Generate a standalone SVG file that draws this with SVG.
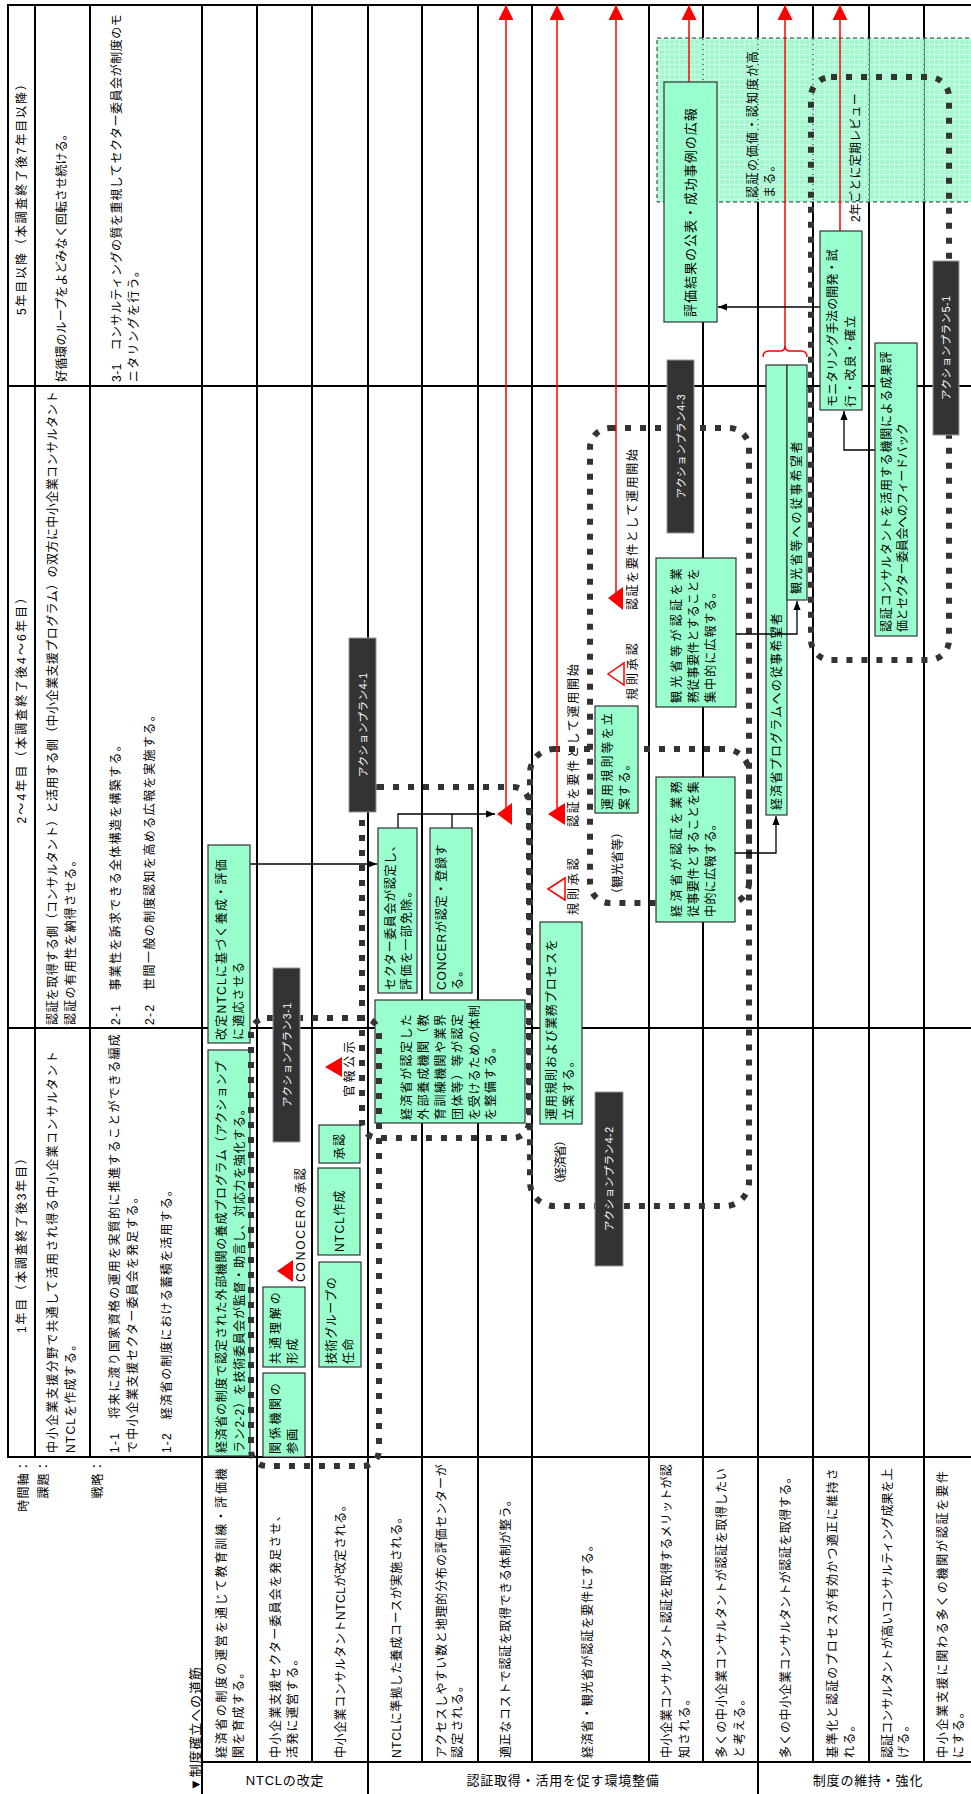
<svg xmlns="http://www.w3.org/2000/svg" width="971" height="1794" viewBox="0 0 971 1794">
<defs>
<style>
.t{font-family:"Liberation Sans","Noto Sans CJK JP",sans-serif;font-size:12px;fill:#000;dominant-baseline:central;letter-spacing:1.2px}
.w{font-family:"Liberation Sans","Noto Sans CJK JP",sans-serif;font-size:10.5px;fill:#fff;dominant-baseline:central;text-anchor:middle}
.h{font-family:"Liberation Sans","Noto Sans CJK JP",sans-serif;font-size:13px;fill:#000;dominant-baseline:central;text-anchor:middle;letter-spacing:0.8px}
.m{text-anchor:middle}
.e{text-anchor:end}
.g{fill:#99ffcc;stroke:#333;stroke-width:1.2}
.d{fill:#333;stroke:#999;stroke-width:1}
.grid line{stroke:#000;stroke-width:2}
.dot{fill:none;stroke:#333;stroke-width:6;stroke-dasharray:6 9}
.red{stroke:#f00;stroke-width:1.5;fill:none}
.con{stroke:#000;stroke-width:1.3;fill:none}
.rt{fill:#f00}
.ht{fill:#fff;stroke:#f00;stroke-width:1.5}
</style>
<marker id="ba" viewBox="0 0 10 8" refX="10" refY="4" markerWidth="9" markerHeight="7.2" markerUnits="userSpaceOnUse" orient="auto"><path d="M0,0 L10,4 L0,8 z" fill="#000"/></marker>
<marker id="rh" viewBox="0 0 10 10" refX="10" refY="5" markerWidth="15" markerHeight="15" markerUnits="userSpaceOnUse" orient="auto"><path d="M0,0 L10,5 L0,10 z" fill="#f00"/></marker>
<pattern id="gp" width="5" height="5" patternUnits="userSpaceOnUse"><rect width="5" height="5" fill="#99ffcc" fill-opacity="0.55"/><rect width="4" height="4" fill="#a3f8cf"/></pattern>
</defs>
<rect width="971" height="1794" fill="#fff"/>

<g id="table" class="grid">
<line x1="7" y1="5" x2="971" y2="5"/>
<line x1="7" y1="386" x2="971" y2="386"/>
<line x1="7" y1="1028" x2="971" y2="1028"/>
<line x1="7" y1="1457" x2="971" y2="1457"/>
<line x1="202" y1="1762" x2="971" y2="1762"/>
<line x1="8" y1="4" x2="8" y2="1458"/>
<line x1="35" y1="4" x2="35" y2="1458"/>
<line x1="90" y1="4" x2="90" y2="1458"/>
<line x1="202" y1="4" x2="202" y2="1794"/>
<line x1="257" y1="4" x2="257" y2="1762"/>
<line x1="312" y1="4" x2="312" y2="1762"/>
<line x1="368" y1="4" x2="368" y2="1794"/>
<line x1="422" y1="4" x2="422" y2="1762"/>
<line x1="478" y1="4" x2="478" y2="1762"/>
<line x1="532" y1="4" x2="532" y2="1762"/>
<line x1="649" y1="4" x2="649" y2="1762"/>
<line x1="703" y1="4" x2="703" y2="1762"/>
<line x1="758" y1="4" x2="758" y2="1794"/>
<line x1="813" y1="4" x2="813" y2="1762"/>
<line x1="869" y1="4" x2="869" y2="1762"/>
<line x1="924" y1="4" x2="924" y2="1762"/>
</g>

<g id="headers">
<text class="t m" transform="translate(22,1242) rotate(-90)" textLength="182">1年目（本調査終了後3年目）</text>
<text class="t m" transform="translate(22,707) rotate(-90)" textLength="233">2～4年目（本調査終了後4～6年目）</text>
<text class="t m" transform="translate(22,196) rotate(-90)" textLength="238">5年目以降（本調査終了後7年目以降）</text>
<text class="t e" transform="translate(24,1459) rotate(-90)">時間軸：</text>
<text class="t e" transform="translate(44,1459) rotate(-90)">課題：</text>
<text class="t e" transform="translate(98,1459) rotate(-90)">戦略：</text>
<text class="t" transform="translate(53,1453) rotate(-90)" textLength="403">中小企業支援分野で共通して活用され得る中小企業コンサルタント</text>
<text class="t" transform="translate(71,1453) rotate(-90)">NTCLを作成する。</text>
<text class="t" transform="translate(53,1025) rotate(-90)" textLength="635">認証を取得する側（コンサルタント）と活用する側（中小企業支援プログラム）の双方に中小企業コンサルタント</text>
<text class="t" transform="translate(71,1025) rotate(-90)">認証の有用性を納得させる。</text>
<text class="t" transform="translate(62,382) rotate(-90)" textLength="255">好循環のループをよどみなく回転させ続ける。</text>
<text class="t" transform="translate(115,1453) rotate(-90)" textLength="420">1-1　将来に渡り国家資格の運用を実質的に推進することができる編成</text>
<text class="t" transform="translate(133,1453) rotate(-90)" textLength="263">で中小企業支援セクター委員会を発足する。</text>
<text class="t" transform="translate(167,1453) rotate(-90)" textLength="270">1-2　経済省の制度における蓄積を活用する。</text>
<text class="t" transform="translate(116,1025) rotate(-90)" textLength="287">2-1　事業性を訴求できる全体構造を構築する。</text>
<text class="t" transform="translate(150,1025) rotate(-90)" textLength="317">2-2　世間一般の制度認知を高める広報を実施する。</text>
<text class="t" transform="translate(117,382) rotate(-90)" textLength="369">3-1　コンサルティングの質を重視してセクター委員会が制度のモ</text>
<text class="t" transform="translate(134,382) rotate(-90)">ニタリングを行う。</text>
</g>

<g id="row-labels">
<text class="t" style="font-size:13px" transform="translate(195,1791) rotate(-90)" textLength="125">▼制度確立への道筋</text>
<text class="t" transform="translate(222,1758) rotate(-90)" textLength="291">経済省の制度の運営を通じて教育訓練・評価機</text>
<text class="t" transform="translate(239,1758) rotate(-90)">関を育成する。</text>
<text class="t" transform="translate(276,1758) rotate(-90)" textLength="250">中小企業支援セクター委員会を発足させ、</text>
<text class="t" transform="translate(293,1758) rotate(-90)">活発に運営する。</text>
<text class="t" transform="translate(341,1758) rotate(-90)" textLength="260">中小企業コンサルタントNTCLが改定される。</text>
<text class="t" transform="translate(397,1758) rotate(-90)" textLength="248">NTCLに準拠した養成コースが実施される。</text>
<text class="t" transform="translate(442,1758) rotate(-90)" textLength="295">アクセスしやすい数と地理的分布の評価センターが</text>
<text class="t" transform="translate(458,1758) rotate(-90)">認定される。</text>
<text class="t" transform="translate(506,1758) rotate(-90)" textLength="265">適正なコストで認証を取得できる体制が整う。</text>
<text class="t" transform="translate(588,1758) rotate(-90)" textLength="220">経済省・観光省が認証を要件にする。</text>
<text class="t" transform="translate(667,1758) rotate(-90)" textLength="295">中小企業コンサルタント認証を取得するメリットが認</text>
<text class="t" transform="translate(685,1758) rotate(-90)">知される。</text>
<text class="t" transform="translate(722,1758) rotate(-90)" textLength="291">多くの中小企業コンサルタントが認証を取得したい</text>
<text class="t" transform="translate(740,1758) rotate(-90)">と考える。</text>
<text class="t" transform="translate(786,1758) rotate(-90)" textLength="288">多くの中小企業コンサルタントが認証を取得する。</text>
<text class="t" transform="translate(833,1758) rotate(-90)" textLength="291">基準化と認証のプロセスが有効かつ適正に維持さ</text>
<text class="t" transform="translate(850,1758) rotate(-90)">れる。</text>
<text class="t" transform="translate(888,1758) rotate(-90)" textLength="291">認証コンサルタントが高いコンサルティング成果を上</text>
<text class="t" transform="translate(904,1758) rotate(-90)">げる。</text>
<text class="t" transform="translate(943,1758) rotate(-90)" textLength="288">中小企業支援に関わる多くの機関が認証を要件</text>
<text class="t" transform="translate(959,1758) rotate(-90)">にする。</text>
<text class="h" x="285" y="1780">NTCLの改定</text>
<text class="h" x="563" y="1780">認証取得・活用を促す環境整備</text>
<text class="h" x="868" y="1780">制度の維持・強化</text>
</g>

<g id="goal-area">
<rect x="657" y="38" width="315" height="164" fill="url(#gp)" stroke="#333" stroke-width="1" stroke-dasharray="4 3"/>
<text class="t" transform="translate(753,198) rotate(-90)" textLength="148">認証の価値・認知度が高</text>
<text class="t" transform="translate(770,198) rotate(-90)">まる。</text>
</g>

<g id="plan-outlines-back">
<rect class="dot" x="530" y="749" width="219" height="457" rx="24"/>
<rect class="dot" x="590" y="428" width="159" height="475" rx="20"/>
<rect class="dot" x="811" y="77" width="138" height="583" rx="20"/>
</g>

<g id="connectors">
<g class="red" marker-end="url(#rh)">
<line x1="506" y1="812" x2="506" y2="5"/>
<line x1="557" y1="812" x2="557" y2="5"/>
<line x1="616" y1="598" x2="616" y2="5"/>
<line x1="689" y1="82" x2="689" y2="5"/>
<line x1="785" y1="347" x2="785" y2="5"/>
<line x1="840" y1="231" x2="840" y2="5"/>
</g>
<path class="red" d="M763,357 Q763,351 769,351 L780,351 Q785,351 785,346 Q785,351 790,351 L801,351 Q807,351 807,357"/>
<g class="con">
<line x1="250" y1="864" x2="377" y2="864" marker-end="url(#ba)"/>
<polyline points="398,828 398,814 495,814" marker-end="url(#ba)"/>
<line x1="452" y1="828" x2="452" y2="814"/>
<line x1="820" y1="307" x2="718" y2="307" marker-end="url(#ba)"/>
<polyline points="875,450 844,450 844,411" marker-end="url(#ba)"/>
</g>
</g>

<g id="n-b1"><rect class="g" x="208" y="1050" width="42" height="406"/>
<text class="t" transform="translate(222,1453) rotate(-90)" textLength="393">経済省の制度で認定された外部機関の養成プログラム（アクションプ</text>
<text class="t" transform="translate(240,1453) rotate(-90)" textLength="351">ラン2-2）を技術委員会が監督・助言し、対応力を強化する。</text></g>
<g id="n-b2"><rect class="g" x="208" y="845" width="42" height="198"/>
<text class="t" transform="translate(222,1040) rotate(-90)" textLength="182">改定NTCLに基づく養成・評価</text>
<text class="t" transform="translate(239,1040) rotate(-90)">に適応させる</text></g>
<g id="n-b3"><rect class="g" x="263" y="1373" width="42" height="84"/>
<text class="t" transform="translate(276,1454) rotate(-90)" textLength="72">関係機関の</text>
<text class="t" transform="translate(293,1454) rotate(-90)">参画</text></g>
<g id="n-b4"><rect class="g" x="263" y="1287" width="42" height="80"/>
<text class="t" transform="translate(276,1364) rotate(-90)" textLength="73">共通理解の</text>
<text class="t" transform="translate(293,1364) rotate(-90)">形成</text></g>
<g id="n-b5"><rect class="g" x="319" y="1262" width="42" height="105"/>
<text class="t" transform="translate(332,1364) rotate(-90)" textLength="88">技術グループの</text>
<text class="t" transform="translate(349,1364) rotate(-90)">任命</text></g>
<g id="n-b6"><rect class="g" x="318" y="1168" width="42" height="87"/>
<text class="t" transform="translate(340,1252) rotate(-90)">NTCL作成</text></g>
<g id="n-b7"><rect class="g" x="319" y="1125" width="41" height="38"/>
<text class="t m" transform="translate(340,1146) rotate(-90)">承認</text></g>
<g id="n-b13"><rect class="g" x="375" y="1000" width="150" height="123"/>
<text class="t" style="letter-spacing:1.4px" transform="translate(407,1120) rotate(-90)">経済省が認定した</text>
<text class="t" style="letter-spacing:1.4px" transform="translate(424,1120) rotate(-90)">外部養成機関（教</text>
<text class="t" style="letter-spacing:1.4px" transform="translate(441,1120) rotate(-90)">育訓練機関や業界</text>
<text class="t" style="letter-spacing:1.4px" transform="translate(458,1120) rotate(-90)">団体等）等が認定</text>
<text class="t" transform="translate(475,1120) rotate(-90)" textLength="116">を受けるための体制</text>
<text class="t" style="letter-spacing:1.4px" transform="translate(491,1120) rotate(-90)">を整備する。</text></g>
<g id="n-b14"><rect class="g" x="540" y="922" width="42" height="202"/>
<text class="t" transform="translate(552,1120) rotate(-90)" textLength="182">運用規則および業務プロセスを</text>
<text class="t" transform="translate(569,1120) rotate(-90)">立案する。</text></g>
<g id="n-b15"><rect class="g" x="378" y="828" width="39" height="165"/>
<text class="t" transform="translate(391,990) rotate(-90)" textLength="152">セクター委員会が認定し、</text>
<text class="t" transform="translate(407,990) rotate(-90)">評価を一部免除。</text></g>
<g id="n-b16"><rect class="g" x="430" y="828" width="42" height="165"/>
<text class="t" transform="translate(442,990) rotate(-90)" textLength="147">CONCERが認定・登録す</text>
<text class="t" transform="translate(458,990) rotate(-90)">る。</text></g>
<g id="n-b17"><rect class="g" x="595" y="706" width="43" height="107"/>
<text class="t" transform="translate(608,810) rotate(-90)" textLength="98">運用規則等を立</text>
<text class="t" transform="translate(625,810) rotate(-90)">案する。</text></g>
<g id="n-b18"><rect class="g" x="656" y="777" width="79" height="145"/>
<text class="t" transform="translate(677,917) rotate(-90)" textLength="137">経済省が認証を業務</text>
<text class="t" transform="translate(694,917) rotate(-90)" textLength="137">従事要件とすることを集</text>
<text class="t" transform="translate(711,917) rotate(-90)" textLength="100">中的に広報する。</text></g>
<g id="n-b19"><rect class="g" x="656" y="558" width="80" height="149"/>
<text class="t" transform="translate(677,703) rotate(-90)" textLength="136">観光省等が認証を業</text>
<text class="t" transform="translate(694,703) rotate(-90)" textLength="136">務従事要件とすることを</text>
<text class="t" transform="translate(711,703) rotate(-90)" textLength="118">集中的に広報する。</text></g>
<g id="n-b20"><rect class="g" x="766" y="365" width="21" height="450"/>
<text class="t" transform="translate(776.5,810) rotate(-90)" textLength="198">経済省プログラムへの従事希望者</text></g>
<g id="n-b21"><rect class="g" x="787" y="365" width="20" height="235"/>
<text class="t" transform="translate(797,594) rotate(-90)" textLength="154">観光省等への従事希望者</text></g>
<g id="n-b22"><rect class="g" x="664" y="82" width="53" height="240"/>
<text class="t" style="font-size:13px" transform="translate(690,317) rotate(-90)" textLength="210">評価結果の公表・成功事例の広報</text></g>
<g id="n-b23"><rect class="g" x="820" y="231" width="42" height="179"/>
<text class="t" transform="translate(833,407) rotate(-90)" textLength="159">モニタリング手法の開発・試</text>
<text class="t" transform="translate(851,407) rotate(-90)">行・改良・確立</text></g>
<g id="n-b24"><rect class="g" x="875" y="343" width="42" height="293"/>
<text class="t" transform="translate(887,632) rotate(-90)" textLength="282">認証コンサルタントを活用する機関による成果評</text>
<text class="t" transform="translate(903,632) rotate(-90)" textLength="210">価とセクター委員会へのフィードバック</text></g>

<g id="connectors-front" class="con">
<polyline points="735,853 776,853 776,816" marker-end="url(#ba)"/>
<polyline points="736,634 797,634 797,601" marker-end="url(#ba)"/>
</g>

<g id="plan-outlines-front">
<rect class="dot" x="251" y="1018" width="128" height="448" rx="16"/>
<rect class="dot" x="362" y="787" width="167" height="351" rx="16"/>
</g>

<g id="n-ap31"><rect class="d" x="273" y="968" width="27" height="174"/><text class="w" transform="translate(286.5,1055) rotate(-90)" textLength="104">アクションプラン3-1</text></g>
<g id="n-ap41"><rect class="d" x="349" y="638" width="27" height="174"/><text class="w" transform="translate(362.5,725) rotate(-90)" textLength="104">アクションプラン4-1</text></g>
<g id="n-ap42"><rect class="d" x="595" y="1092" width="28" height="174"/><text class="w" transform="translate(609,1179) rotate(-90)" textLength="104">アクションプラン4-2</text></g>
<g id="n-ap43"><rect class="d" x="667" y="360" width="27" height="173"/><text class="w" transform="translate(680.5,446.5) rotate(-90)" textLength="104">アクションプラン4-3</text></g>
<g id="n-ap51"><rect class="d" x="933" y="261" width="26" height="174"/><text class="w" transform="translate(946,348) rotate(-90)" textLength="104">アクションプラン5-1</text></g>

<g id="milestones">
<polygon class="rt" points="277,1271 293,1260 293,1282"/>
<text class="t" transform="translate(301,1282) rotate(-90)" textLength="115">CONOCERの承認</text>
<polygon class="rt" points="325,1067 342,1057 342,1077"/>
<text class="t" transform="translate(350,1097) rotate(-90)" textLength="57">官報公示</text>
<polygon class="rt" points="497,814 512,803 512,825"/>
<polygon class="rt" points="548,814 565,803 565,825"/>
<text class="t" transform="translate(574,827) rotate(-90)" textLength="164">認証を要件として運用開始</text>
<polygon class="rt" points="608,598 623,587 623,610"/>
<text class="t" transform="translate(633,610) rotate(-90)" textLength="162">認証を要件として運用開始</text>
<polygon class="ht" points="608,674 624,663 624,685"/>
<text class="t" transform="translate(633,700) rotate(-90)" textLength="58">規則承認</text>
<polygon class="ht" points="548,889 565,878 565,900"/>
<text class="t" transform="translate(574,915) rotate(-90)" textLength="58">規則承認</text>
<text class="t" transform="translate(618,900) rotate(-90)" textLength="75">（観光省等）</text>
<text class="t" transform="translate(561,1190) rotate(-90)" textLength="57">（経済省）</text>
<text class="t" transform="translate(856,222) rotate(-90)" textLength="130">2年ごとに定期レビュー</text>
</g>
</svg>
